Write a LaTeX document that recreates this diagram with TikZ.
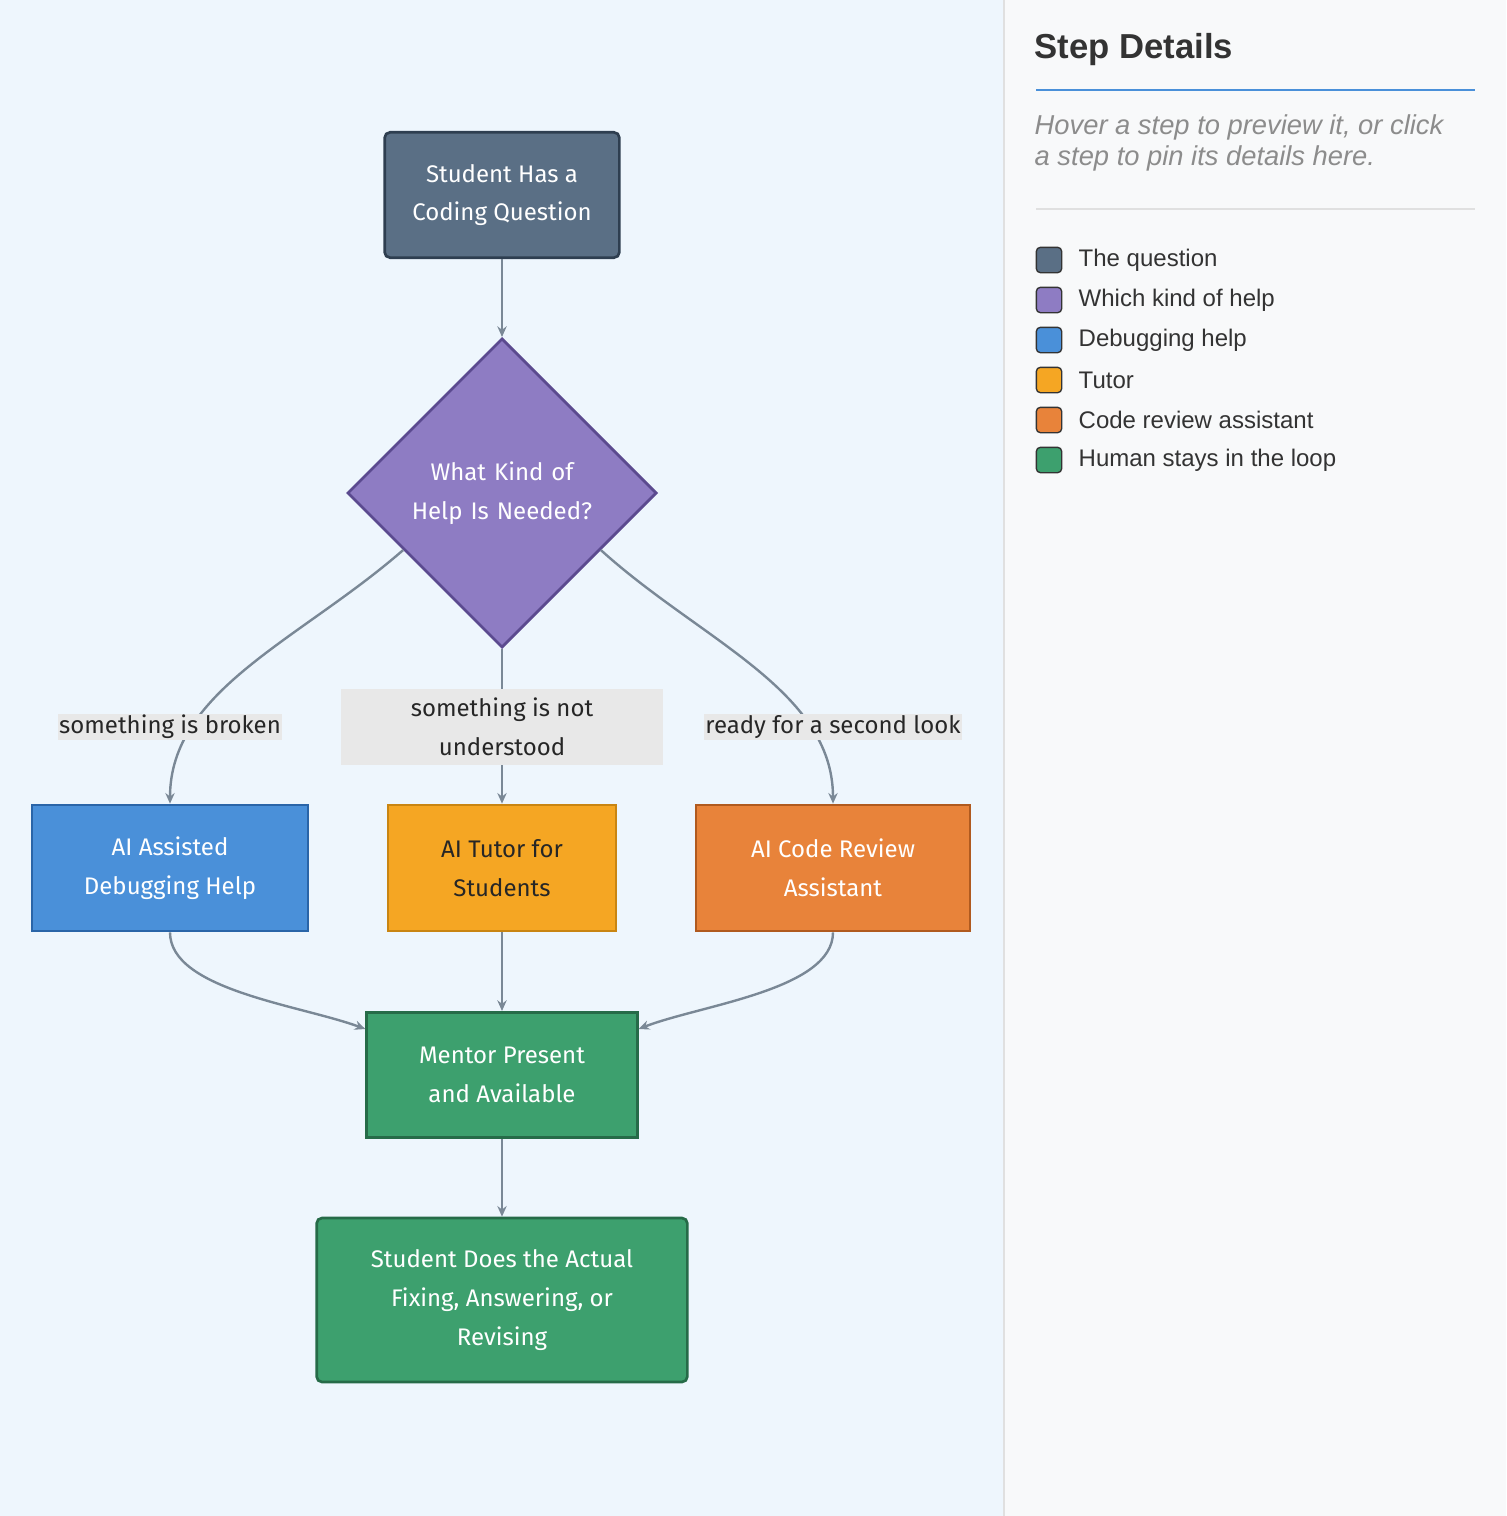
\documentclass[tikz,border=0pt]{standalone}
\usepackage{fontspec}
\setmainfont{Liberation Sans}
\newfontfamily\nodefont{Fira Sans}
\usetikzlibrary{shapes.geometric, arrows.meta, calc}
\definecolor{leftbg}{HTML}{EEF6FD}
\definecolor{rightbg}{HTML}{F8F9FA}
\definecolor{edgec}{HTML}{7A8896}
\definecolor{qfill}{HTML}{5A6F85}\definecolor{qdraw}{HTML}{2E3E50}
\definecolor{kfill}{HTML}{8E7CC3}\definecolor{kdraw}{HTML}{5B4A8F}
\definecolor{dfill}{HTML}{4A90D9}\definecolor{ddraw}{HTML}{2A65A8}
\definecolor{tfill}{HTML}{F5A623}\definecolor{tdraw}{HTML}{C98512}
\definecolor{rfill}{HTML}{E8833A}\definecolor{rdraw}{HTML}{B05A1F}
\definecolor{hfill}{HTML}{3DA06E}\definecolor{hdraw}{HTML}{266B48}
\tikzset{
  step/.style={rectangle, draw=#1draw, fill=#1fill, line width=2pt, text=white,
    align=center, font=\nodefont\fontsize{18}{29}\selectfont, inner sep=0pt},
  edge/.style={draw=edgec, line width=1.8pt, -{Stealth[length=8pt,width=7pt]}},
  elabel/.style={fill=black!9, text=black!85, align=center, inner sep=1pt,
    font=\nodefont\fontsize{18}{29}\selectfont},
  key/.style={rectangle, rounded corners=3pt, draw=black!80, fill=#1fill, line width=1pt,
    minimum size=19pt, inner sep=0pt},
  keytext/.style={anchor=west, font=\fontsize{18}{20}\selectfont, text=black!80}
}
\begin{document}
\begin{tikzpicture}[x=0.75pt, y=-0.75pt]
\useasboundingbox (0,0) rectangle (1506,1516);
\fill[leftbg] (0,0) rectangle (1004,1516);
\fill[rightbg] (1004,0) rectangle (1506,1516);
\draw[black!12, line width=1pt] (1004,0) -- (1004,1516);

% flowchart
\node[step=q, rounded corners=4pt, minimum width=176pt, minimum height=94pt] (ques) at (502,195) {Student Has a\\Coding Question};
\node[step=k, diamond, minimum width=232pt, minimum height=232pt, text width=150pt] (kind) at (502,493) {What Kind of\\Help Is Needed?};
\node[step=d, minimum width=207pt, minimum height=94.5pt] (debug) at (170,868) {AI Assisted\\Debugging Help};
\node[step=t, minimum width=171pt, minimum height=94.5pt, text=black!85] (tutor) at (502,868) {AI Tutor for\\Students};
\node[step=r, minimum width=205.5pt, minimum height=94.5pt] (review) at (833,868) {AI Code Review\\Assistant};
\node[step=h, minimum width=203pt, minimum height=94pt] (mentor) at (502,1075) {Mentor Present\\and Available};
\node[step=h, rounded corners=4pt, minimum width=278pt, minimum height=123pt] (final) at (502,1300) {Student Does the Actual\\Fixing, Answering, or\\Revising};

\draw[edge] (kind.-150) .. controls (300,640) and (170,690) .. (debug.north);
\draw[edge] (ques) -- (kind);
\draw[edge] (kind) -- (tutor);
\draw[edge] (kind.-30) .. controls (700,640) and (833,690) .. (review.north);
\draw[edge] (debug.south) .. controls (170,990) and (300,1005) .. ($(mentor.north west)+(0,18)$);
\draw[edge] (tutor) -- (mentor);
\draw[edge] (review.south) .. controls (833,990) and (700,1005) .. ($(mentor.north east)+(0,18)$);
\draw[edge] (mentor) -- (final);

\node[elabel] (lbroken) at (170,727) {something is broken};
\node[elabel, minimum width=241pt, minimum height=57pt] (lnot) at (502,727) {something is not\\understood};
\node[elabel] (lsecond) at (833,727) {ready for a second look};

% side panel
\node[anchor=west, font=\bfseries\fontsize{26}{30}\selectfont, text=black!80] (title) at (1030,50) {Step Details};
\draw[dfill, line width=2.2pt] (1036,90) -- (1475,90);
\node[anchor=north west, align=left, font=\itshape\fontsize{20.5}{23}\selectfont, text=black!45] (hint) at (1030,110) {Hover a step to preview it, or click\\a step to pin its details here.};
\draw[black!12, line width=1pt] (1036,209) -- (1475,209);
\foreach \c/\t [count=\i] in {q/The question, k/Which kind of help, d/Debugging help, t/Tutor, r/Code review assistant, h/Human stays in the loop} {
  \node[key=\c] (key\i) at (1049,220+40*\i) {};
  \node[keytext] (keyt\i) at (1074,220+40*\i) {\t};
}
\end{tikzpicture}
\end{document}
